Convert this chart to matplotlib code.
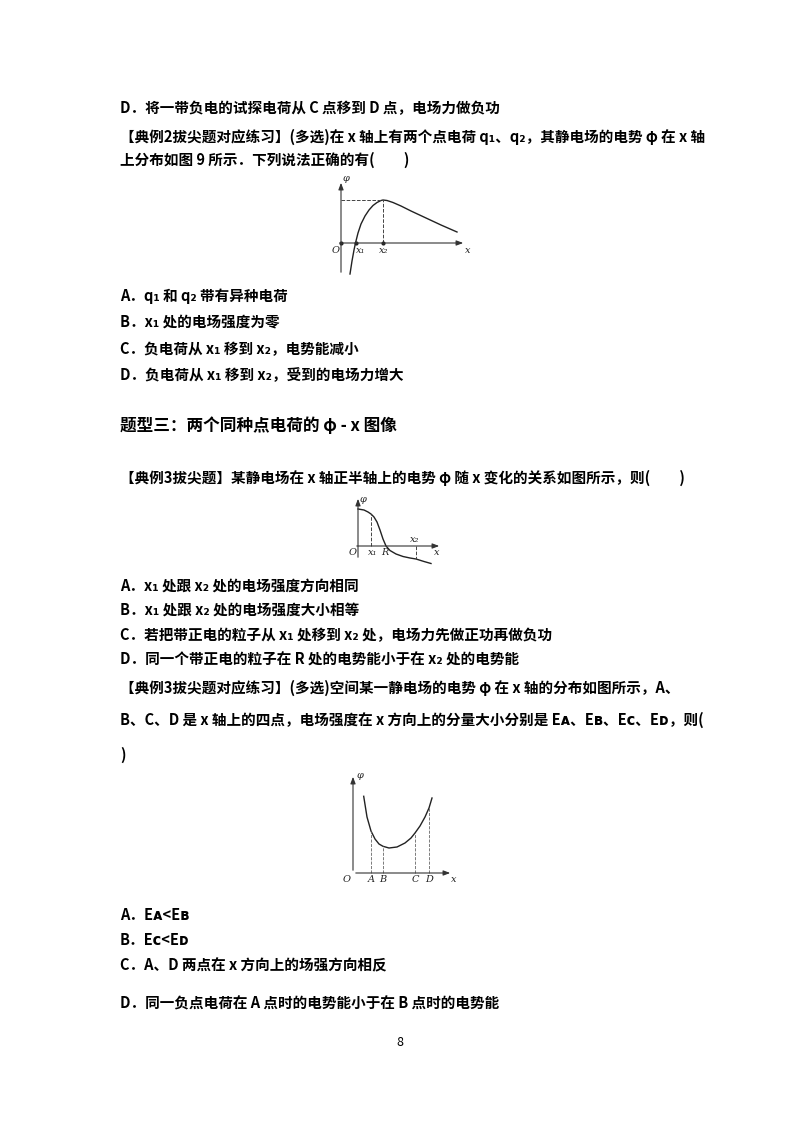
import matplotlib
matplotlib.use("Agg")
import matplotlib.pyplot as plt

plt.rcParams['font.family'] = ['Noto Sans CJK SC', 'DejaVu Sans']

W, H = 800, 1132
fig = plt.figure(figsize=(8, 11.32), dpi=100)

# Curve 1 (phi-x, opposite charges), pixel-scaled units
g1_x = [9, 11, 13, 14.5, 17, 20, 24, 28, 32, 36, 40, 42, 46, 52, 60, 70, 85, 100, 116]
g1_y = [-31, -18, -7, 0, 10, 19, 27, 33, 37.5, 40.5, 42.5, 43, 42.5, 40.5, 37, 32, 25, 18, 11]
# Curve 2
g2_x = [0, 6, 10, 13, 16, 19, 22, 25, 28, 32, 38, 45, 52, 58, 66, 73]
g2_y = [37, 36, 34, 32, 29, 24, 16, 7, 0, -4.5, -8, -10.5, -12, -13, -15.5, -17.5]
# Curve 3
g3_x = [10.7, 14, 18, 22, 26, 30, 36, 44, 52, 58, 62, 67, 72, 76, 79]
g3_y = [76.7, 56, 42, 34, 29, 26.7, 25, 26, 30, 35, 40, 47, 56, 65, 75]

lines = [
    (108, "D．将一带负电的试探电荷从 C 点移到 D 点，电场力做负功", 10.5, 'bold'),
    (137, "【典例2拔尖题对应练习】(多选)在 x 轴上有两个点电荷 q₁、q₂，其静电场的电势 φ 在 x 轴", 10.5, 'bold'),
    (160, "上分布如图 9 所示．下列说法正确的有(　　)", 10.5, 'bold'),
    (296, "A．q₁ 和 q₂ 带有异种电荷", 10.5, 'bold'),
    (322, "B．x₁ 处的电场强度为零", 10.5, 'bold'),
    (349, "C．负电荷从 x₁ 移到 x₂，电势能减小", 10.5, 'bold'),
    (375, "D．负电荷从 x₁ 移到 x₂，受到的电场力增大", 10.5, 'bold'),
    (426, "题型三：两个同种点电荷的 φ - x 图像", 12, 'bold'),
    (478, "【典例3拔尖题】某静电场在 x 轴正半轴上的电势 φ 随 x 变化的关系如图所示，则(　　)", 10.5, 'bold'),
    (586, "A．x₁ 处跟 x₂ 处的电场强度方向相同", 10.5, 'bold'),
    (610, "B．x₁ 处跟 x₂ 处的电场强度大小相等", 10.5, 'bold'),
    (635, "C．若把带正电的粒子从 x₁ 处移到 x₂ 处，电场力先做正功再做负功", 10.5, 'bold'),
    (660, "D．同一个带正电的粒子在 R 处的电势能小于在 x₂ 处的电势能", 10.5, 'bold'),
    (688, "【典例3拔尖题对应练习】(多选)空间某一静电场的电势 φ 在 x 轴的分布如图所示，A、", 10.5, 'bold'),
    (720, "B、C、D 是 x 轴上的四点，电场强度在 x 方向上的分量大小分别是 Eᴀ、Eʙ、Eᴄ、Eᴅ，则(", 10.5, 'bold'),
    (755, ")", 10.5, 'bold'),
    (915, "A．Eᴀ<Eʙ", 10.5, 'bold'),
    (940, "B．Eᴄ<Eᴅ", 10.5, 'bold'),
    (965, "C．A、D 两点在 x 方向上的场强方向相反", 10.5, 'bold'),
    (1003, "D．同一负点电荷在 A 点时的电势能小于在 B 点时的电势能", 10.5, 'bold'),
]
for y, t, fs, fw in lines:
    fig.text(120 / W, 1 - y / H, t, fontsize=fs, fontweight=fw, va='center', ha='left')
fig.text(400 / W, 1 - 1042 / H, "8", fontsize=9, ha='center', va='center')


def make_ax(ox, oy, xmin, xmax, ymin, ymax):
    left = ox + xmin
    bottom = H - (oy - ymin)
    ax = fig.add_axes([left / W, bottom / H, (xmax - xmin) / W, (ymax - ymin) / H])
    ax.set_xlim(xmin, xmax)
    ax.set_ylim(ymin, ymax)
    ax.axis('off')
    return ax


def axes_arrows(ax, xend, ytop, ybot, xl=-4):
    kw = dict(arrowstyle='-|>,head_length=0.4,head_width=0.15', color='#333', lw=0.8)
    ax.annotate('', xy=(xend, 0), xytext=(xl, 0), arrowprops=kw)
    ax.annotate('', xy=(0, ytop), xytext=(0, ybot), arrowprops=kw)


tkw = dict(fontsize=7, family=['DejaVu Serif'], style='italic', color='#222')

# Graph 1
ax1 = make_ax(341, 243, -20, 140, -40, 70)
axes_arrows(ax1, 125, 63, -32)
ax1.plot(g1_x, g1_y, color='#222', lw=1.0)
ax1.plot([0, 42], [43, 43], '--', color='#444', lw=0.7)
ax1.plot([42, 42], [0, 43], '--', color='#444', lw=0.7)
ax1.plot([0, 14.5, 42], [0, 0, 0], 'o', color='#222', ms=2)
ax1.text(-9, -3, 'O', va='top', **tkw)
ax1.text(15, -3, 'x₁', va='top', **tkw)
ax1.text(38, -3, 'x₂', va='top', **tkw)
ax1.text(124, -3, 'x', va='top', **tkw)
ax1.text(2, 62, 'φ', **tkw)

# Graph 2
ax2 = make_ax(358, 546, -15, 95, -25, 55)
axes_arrows(ax2, 84, 50, -14)
ax2.plot(g2_x, g2_y, color='#222', lw=1.0)
ax2.plot([13, 13], [0, 32], '--', color='#444', lw=0.7)
ax2.plot([58, 58], [0, -13], '--', color='#444', lw=0.7)
ax2.text(-9, -2, 'O', va='top', **tkw)
ax2.text(10, -2, 'x₁', va='top', **tkw)
ax2.text(23, -2, 'R', va='top', **tkw)
ax2.text(52, 2, 'x₂', va='bottom', **tkw)
ax2.text(76, -2, 'x', va='top', **tkw)
ax2.text(2, 44, 'φ', **tkw)

# Graph 3
ax3 = make_ax(353, 873, -20, 115, -20, 105)
axes_arrows(ax3, 100, 99, 0, xl=0)
ax3.plot(g3_x, g3_y, color='#222', lw=1.0)
for xx, yy in [(18, 42), (30, 26.7), (62, 40), (76, 65)]:
    ax3.plot([xx, xx], [0, yy], '--', color='#666', lw=0.6)
ax3.text(-10, -2, 'O', va='top', **tkw)
for lab, xx in zip(['A', 'B', 'C', 'D'], [18, 30, 62, 76]):
    ax3.text(xx, -2, lab, va='top', ha='center', **tkw)
ax3.text(98, -2, 'x', va='top', **tkw)
ax3.text(4, 95, 'φ', **tkw)

fig.savefig('out.png', dpi=100, facecolor='white')
